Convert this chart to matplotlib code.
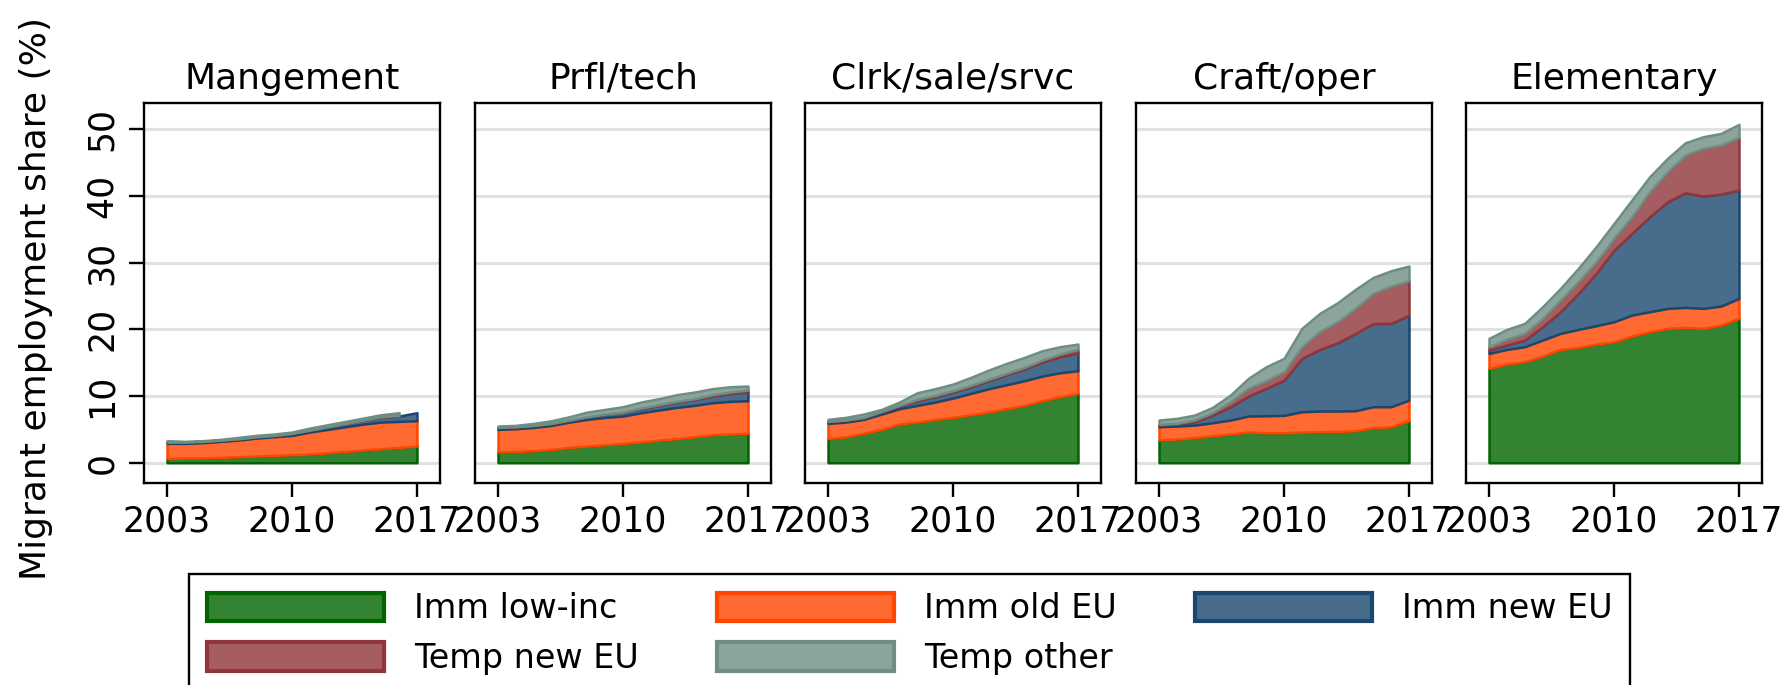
import numpy as np
import matplotlib
matplotlib.use("Agg")
import matplotlib.pyplot as plt
from matplotlib.colors import to_rgb
from matplotlib.patches import Patch

# years on the x axis
years = list(range(2003, 2018))

panels = ["Mangement", "Prfl/tech", "Clrk/sale/srvc", "Craft/oper", "Elementary"]

# stack tops (cumulative %), one row per panel
top_low_inc = [
    [0.6, 0.7, 0.7, 0.8, 0.9, 1.0, 1.1, 1.2, 1.3, 1.5, 1.7, 1.9, 2.1, 2.3, 2.5],
    [1.6, 1.7, 1.8, 2.0, 2.3, 2.5, 2.7, 2.9, 3.1, 3.4, 3.6, 3.9, 4.2, 4.3, 4.4],
    [3.6, 3.9, 4.4, 5.0, 5.8, 6.1, 6.5, 6.8, 7.2, 7.6, 8.1, 8.6, 9.3, 9.9, 10.4],
    [3.4, 3.55, 3.75, 4.05, 4.3, 4.6, 4.5, 4.5, 4.6, 4.65, 4.7, 4.8, 5.25, 5.4, 6.3],
    [14.15, 14.8, 15.15, 16.0, 17.0, 17.3, 17.8, 18.15, 19.0, 19.65, 20.15, 20.3, 20.15, 20.65, 21.65],
]
top_old_eu = [
    [2.9, 2.9, 3.0, 3.2, 3.4, 3.7, 3.9, 4.1, 4.6, 5.0, 5.4, 5.8, 6.1, 6.2, 6.3],
    [5.0, 5.1, 5.3, 5.6, 6.1, 6.5, 6.8, 7.0, 7.5, 7.9, 8.3, 8.6, 9.0, 9.2, 9.3],
    [5.9, 6.1, 6.5, 7.3, 8.1, 8.6, 9.1, 9.7, 10.4, 11.1, 11.7, 12.3, 13.0, 13.5, 13.8],
    [5.4, 5.5, 5.65, 6.0, 6.4, 7.0, 7.05, 7.1, 7.65, 7.75, 7.75, 7.8, 8.4, 8.4, 9.4],
    [16.4, 17.0, 17.4, 18.4, 19.4, 20.0, 20.55, 21.15, 22.15, 22.65, 23.15, 23.3, 23.15, 23.5, 24.65],
]
top_new_eu = [
    [3.1, 3.1, 3.2, 3.4, 3.6, 3.9, 4.1, 4.4, 4.9, 5.4, 5.9, 6.4, 6.8, 7.0, 7.5],
    [5.3, 5.4, 5.6, 5.9, 6.4, 6.9, 7.3, 7.6, 8.1, 8.6, 9.1, 9.5, 10.0, 10.4, 10.6],
    [6.2, 6.4, 6.8, 7.6, 8.5, 9.3, 9.9, 10.6, 11.4, 12.3, 13.2, 14.1, 15.1, 15.9, 16.5],
    [5.65, 5.8, 6.15, 7.15, 8.4, 10.0, 11.15, 12.4, 15.65, 17.0, 18.0, 19.4, 20.9, 20.9, 22.15],
    [16.9, 17.65, 18.4, 20.4, 22.65, 25.4, 28.4, 31.9, 34.4, 36.9, 39.15, 40.5, 40.0, 40.3, 40.9],
]
top_temp_new_eu = [
    [3.1, 3.1, 3.2, 3.4, 3.6, 3.9, 4.1, 4.4, 4.9, 5.4, 5.9, 6.4, 6.9, 7.1, np.nan],
    [5.3, 5.4, 5.6, 5.9, 6.4, 6.9, 7.3, 7.6, 8.2, 8.7, 9.2, 9.6, 10.2, 10.6, 10.9],
    [6.2, 6.4, 6.8, 7.7, 8.6, 9.5, 10.1, 10.8, 11.6, 12.5, 13.4, 14.3, 15.4, 16.3, 17.0],
    [5.75, 5.9, 6.4, 7.5, 9.15, 11.15, 12.3, 13.65, 17.4, 19.65, 21.15, 23.15, 25.4, 26.5, 27.3],
    [17.4, 18.5, 19.4, 21.65, 24.4, 27.15, 30.15, 33.65, 36.9, 40.65, 43.65, 46.15, 47.15, 47.65, 48.8],
]
top_temp_other = [
    [3.3, 3.2, 3.3, 3.5, 3.8, 4.1, 4.3, 4.6, 5.2, 5.7, 6.2, 6.7, 7.2, 7.5, np.nan],
    [5.5, 5.6, 5.9, 6.3, 6.9, 7.6, 8.0, 8.4, 9.1, 9.6, 10.2, 10.6, 11.1, 11.4, 11.5],
    [6.5, 6.8, 7.3, 8.0, 9.1, 10.5, 11.1, 11.8, 12.8, 13.9, 14.9, 15.8, 16.8, 17.4, 17.8],
    [6.4, 6.65, 7.15, 8.3, 10.15, 12.65, 14.4, 15.65, 20.15, 22.4, 24.0, 26.0, 27.8, 28.8, 29.5],
    [18.65, 20.0, 20.9, 23.4, 26.15, 29.15, 32.4, 35.9, 39.4, 42.9, 45.65, 48.0, 48.9, 49.4, 50.75],
]

labels = ["Imm low-inc", "Imm old EU", "Imm new EU", "Temp new EU", "Temp other"]
edge_colors = ["#006400", "#ff4500", "#1a476f", "#90353b", "#6e8e84"]


def lighten(c, k=0.8):  # stata style fill: colour at 80% over white
    r, g, b = to_rgb(c)
    return (k * r + 1 - k, k * g + 1 - k, k * b + 1 - k)


fill_colors = [lighten(c) for c in edge_colors]
series = [top_low_inc, top_old_eu, top_new_eu, top_temp_new_eu, top_temp_other]

W, H = 1786, 685
fig = plt.figure(figsize=(W / 100, H / 100), dpi=100)

lefts = [144, 475, 805, 1136, 1466]
ax_w = 296
ax_top, ax_bot = 102.7, 482.7

for p, name in enumerate(panels):
    ax = fig.add_axes([lefts[p] / W, 1 - ax_bot / H, ax_w / W, (ax_bot - ax_top) / H])
    lower = np.zeros(len(years))
    for s in range(5):
        upper = np.array(series[s][p], dtype=float)
        ax.fill_between(years, lower, upper, facecolor=fill_colors[s],
                        edgecolor=edge_colors[s], linewidth=1.8, zorder=3)
        lower = upper

    ax.set_xlim(2001.71, 2018.29)
    ax.set_ylim(-3, 54)
    ax.set_yticks(range(0, 60, 10))
    ax.set_xticks([2003, 2010, 2017])
    ax.grid(axis="y", color="#e1e1e1", linewidth=2.2, zorder=0)
    ax.set_axisbelow(True)
    for sp in ax.spines.values():
        sp.set_linewidth(1.7)
        sp.set_color("black")
    ax.tick_params(axis="x", length=10, width=1.7, pad=6, labelsize=25)
    if p == 0:
        ax.tick_params(axis="y", length=11, width=1.7, pad=7, labelsize=25)
        for t in ax.get_yticklabels():
            t.set_rotation(90)
            t.set_va("center")
    else:
        ax.tick_params(axis="y", length=0, labelleft=False)
    ax.set_title(name, fontsize=26, pad=10)

fig.text(36 / W, 1 - 298 / H, "Migrant employment share (%)", rotation=90,
         fontsize=26, ha="center", va="center")

# legend: column-wise fill so rows read like the original
order = [0, 3, 1, 4, 2]
handles = [Patch(facecolor=fill_colors[i], edgecolor=edge_colors[i], linewidth=3) for i in order]
leg = fig.legend(handles, [labels[i] for i in order], ncol=3, loc="upper left",
                 bbox_to_anchor=(189 / W, 1 - 574 / H), fontsize=24,
                 handlelength=5.3, handleheight=0.95, handletextpad=0.9,
                 columnspacing=2.35, labelspacing=0.5, borderpad=0.55,
                 borderaxespad=0, fancybox=False, framealpha=1, edgecolor="black")
leg.get_frame().set_linewidth(1.7)

fig.savefig("out.png", dpi=100)
